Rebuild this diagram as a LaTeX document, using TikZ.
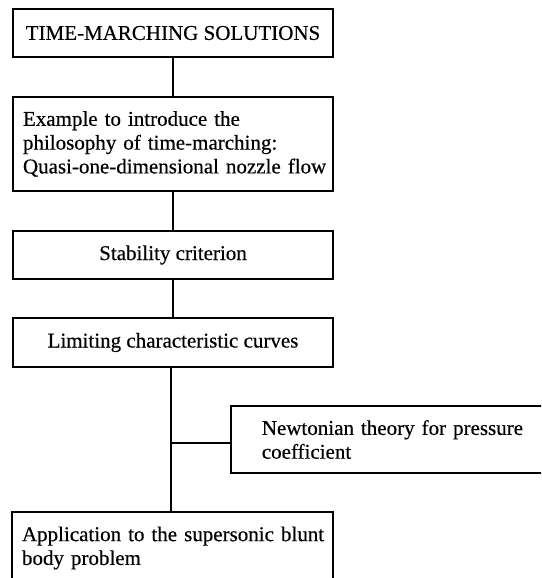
\documentclass[tikz,border=0pt]{standalone}
\usepackage{fontspec}
\setmainfont[FakeBold=0.4]{Liberation Serif}
\begin{document}
\begin{tikzpicture}[x=1pt,y=-1pt,
  box/.style={draw, line width=1.7pt, rectangle, inner sep=0pt, font=\fontsize{21}{23.8}\selectfont},
  cbox/.style={box, minimum width=320pt, align=center},
  lbox/.style={box, text width=300pt, inner xsep=10pt, align=left},
  link/.style={line width=1.7pt}]
\clip (0,0) rectangle (541,578);
\fill[white] (0,0) rectangle (541,578);
\node[cbox, minimum height=48pt] (b1) at (173,33) {TIME-MARCHING SOLUTIONS};
\node[lbox, minimum height=94pt] (b2) at (173,144) {\mbox{Example to introduce the}\\\mbox{philosophy of time-marching:}\\\mbox{Quasi-one-dimensional nozzle flow}};
\node[cbox, minimum height=48pt] (b3) at (173,255) {Stability criterion};
\node[cbox, minimum height=49pt] (b4) at (173,342.5) {Limiting characteristic curves};
\node[lbox, minimum height=72pt, text width=301pt] (b5) at (172.5,548) {\mbox{Application to the supersonic blunt}\\\mbox{body problem}};
\node[box, anchor=west, text width=300pt, inner xsep=31pt, minimum height=67pt, align=left] (b6) at (230,439.5) {\mbox{Newtonian theory for pressure}\\\mbox{coefficient}};
\coordinate (j) at (171,443);
\draw[link] (b1.south) -- (b2.north);
\draw[link] (b2.south) -- (b3.north);
\draw[link] (b3.south) -- (b4.north);
\draw[link] (b4.south -| j) -- (b5.north -| j);
\draw[link] (j) -- (j -| b6.west);
\end{tikzpicture}
\end{document}
